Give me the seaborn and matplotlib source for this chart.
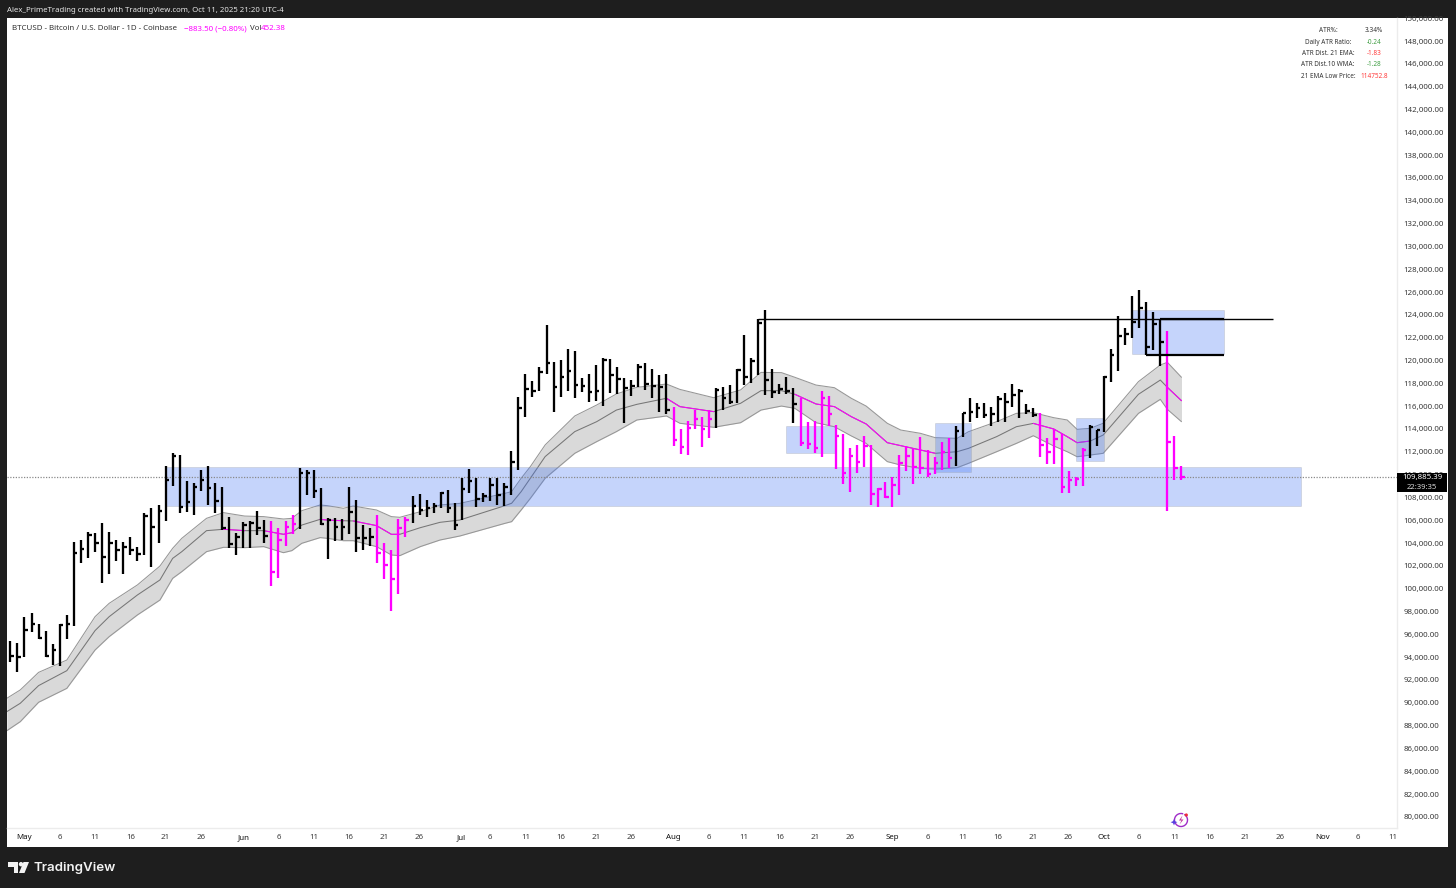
import numpy as np
import pandas as pd
import matplotlib
matplotlib.use("Agg")
import matplotlib.pyplot as plt
from matplotlib.patches import Polygon, Circle, Arc, Rectangle
from matplotlib.transforms import ScaledTranslation
import seaborn as sns

W, H = 1456, 888
BLACK_BAR = "#000000"
PINK = "#ff00ff"
FRAME = "#1e1e1e"
FONT = ["Noto Sans", "DejaVu Sans"]

# ---------- data (BTCUSD daily, day 0 = May 1 2025) ----------
first_day = -2
highs = [95550,95350,97620,97970,97040,96400,95290,97010,97830,104250,104400,105070,104980,105860,105070,104400,104250,104630,103760,106740,107180,107470,110890,112050,111850,109600,109420,110530,110890,109420,109070,106450,105040,106010,106070,106970,106150,106070,105480,106070,106590,110680,110530,110530,108930,106300,106300,106240,109070,107910,105690,105420,106590,104110,103520,106210,106450,108260,108430,107910,107670,108640,108780,107610,
109810,110600,109860,108490,109810,109810,109370,112230,116900,118950,118360,119530,123240,120030,120180,121110,120960,118570,118950,119740,120380,120230,119590,118570,118420,119830,119880,119360,118860,118950,116090,
114100,114860,115790,115150,115790,117750,117780,117980,119360,122370,120320,123740,124560,119360,118070,118720,117690,116820,114710,114860,117460,117050,114480,113660,112440,112730,113520,112730,108930,109510,109950,111850,112640,112350,
113460,112290,111650,112960,113310,114390,115560,116870,116440,116380,116090,117050,117310,118040,117600,116290,115940,115500,113370,114100,113660,110450,109890,112430,114480,114040,
118770,121110,124030,123010,125780,126310,125230,124350,123740,122720,113520,110890]
lows = [93740,92860,94120,96370,95730,94120,93450,93360,95750,96860,102360,102790,103350,100660,101420,102590,101390,103090,102590,103090,102060,104170,106070,109130,106740,106880,106590,108690,107470,106740,105280,103670,103090,103730,103670,104840,104170,100400,101100,103900,104930,105340,108340,108050,105710,102760,104340,104400,104930,103320,103520,103870,102360,100950,98210,99670,104630,105860,106590,106390,106800,107230,106740,105280,
106160,108550,107260,107760,107850,107470,107380,108350,110540,115210,116900,117460,118920,115650,116900,117460,116880,117400,116520,116610,116170,117310,117200,114680,117050,117780,117550,116820,115650,115440,112640,
111940,111850,114100,112580,113310,114250,115790,116320,116440,117980,118190,118860,117110,116870,117200,117200,114680,112670,112350,112000,111650,114390,110590,109280,108640,110300,110830,107470,107320,108050,107260,108350,110480,109310,
110180,109950,110180,110540,110680,110920,113460,114710,115120,115120,114390,114710,114710,116090,115060,115440,115210,111650,111060,111030,108550,108550,109130,109130,111560,112670,
113900,118280,119240,121490,122130,123010,120610,121050,119680,106970,109660,109660]
closes = [94240,94180,96510,97040,95840,94240,94760,96950,97040,103230,103580,104840,104110,102880,104110,103520,103760,103520,103170,106500,105570,106970,109660,111760,107260,107760,109070,109660,108930,107820,105420,104050,104690,105710,105920,105420,104780,101570,104400,105570,105800,110240,110300,108690,105770,106150,105510,105570,106880,104610,104610,104690,103290,102180,101010,105420,106150,107410,107030,107180,107380,108490,107180,105710,
108870,109600,107970,108260,109220,108350,109020,111270,116000,117610,117460,119150,119880,117780,118660,119240,117990,117900,117400,117460,120180,118860,118480,117690,117900,119530,118070,117900,117840,115790,113170,
112580,114220,115010,114100,115010,117550,116820,116470,119300,118720,120120,123390,118420,117400,117610,117490,116290,112870,112810,112490,116870,115410,113520,110240,111760,111270,112640,108400,108840,108200,109220,111180,111760,110770,
110680,110180,111120,112080,111620,113950,115560,115650,116000,115360,115440,116760,116470,117110,117490,115730,115330,112730,112080,113250,109020,109660,109720,112290,114270,114040,
118660,120610,122310,122450,123480,124700,121340,123330,121720,112960,110680,109885]
pink_bar_spans = [(35, 38), (50, 54), (92, 97), (110, 131), (144, 150), (162, 164)]

band_day = [-2.5,-0.6,2,6,10,12,16,19.2,21,22.3,25.8,28.2,31.2,33.9,36.7,37.9,39.3,41.9,42.9,45.2,46.6,49.9,52,53.2,56.1,58.9,61.7,68.1,69.05,70.4,71.7,73.8,78,81.1,83.9,86.8,91,92.9,97.7,101.5,104.4,107.3,109.2,112.2,114.8,117.2,119.3,122.3,124.2,127,129.1,132.2,133.8,137.8,140.6,143,145.9,147.8,149.2,151.1,152.9,157.9,161,162,164]
band_upper = [90530,91260,92800,93880,97680,98850,100460,102120,103670,104550,106300,106800,106500,106450,106240,106300,106970,107470,107410,107180,107380,107030,106450,106390,106880,107470,107610,108490,108640,109810,110830,112730,115270,116230,117200,117780,118070,117600,116870,117550,119090,119070,118660,117980,117750,116820,116140,114630,114040,113750,113370,113310,113890,114770,115500,115560,115120,114920,114100,114190,114630,118280,119740,119970,118660]
band_mid = [89360,90090,91640,92950,96460,97680,99580,100900,102790,103380,105220,105340,105220,105220,104900,105040,105710,106210,106150,106090,106070,105660,104900,104900,105480,105950,106150,107410,107620,108640,109810,111710,113900,114770,115790,116290,116820,116090,115650,116380,117490,117490,117170,116320,116090,115210,114570,112930,112670,112290,112000,112140,112430,113460,114330,114620,114130,113460,112930,113080,113600,117170,118420,117780,116610]
band_lower = [87690,88480,90180,91400,94760,95930,97830,99140,101040,101630,103380,103760,103730,103820,103290,103470,104110,104610,104550,104340,104340,103820,103090,103030,103820,104400,104750,105860,106010,107030,108050,109810,112000,113020,113900,114920,115270,114630,114280,114680,115790,116140,115940,114680,114330,113520,112870,111270,110970,110680,110620,110740,111120,112140,112870,113540,112640,112140,111700,111850,112000,115500,116730,115850,114770]
pink_mid_spans = [(28.2, 31.2), (33.9, 37.9), (41.9, 45.2), (46.6, 53.2), (91, 97.7), (109.2, 129.1), (143, 151.1), (162, 164)]

zones_start = [20.05, 108, 129.1, 149, 157]
zones_end = [181, 114.9, 134.1, 153, 170]
zones_top = [110800, 114390, 114630, 115070, 124560]
zones_bottom = [107340, 112050, 110390, 111350, 120700]

level_thin = (104, 177, 123770)
level_thick = (161, 170, 123770)
level_low = (159, 170, 120610)
last_price = 109885.39

x_tick_days = [0,5,10,15,20,25,31,36,41,46,51,56,61.85,66,71,76,81,86,92,97,102,107,112,117,123,128,133,138,143,148,153,158,163,168,173,178,184,189,194]
x_tick_labels = ["May","6","11","16","21","26","Jun","6","11","16","21","26","Jul","6","11","16","21","26","Aug","6","11","16","21","26","Sep","6","11","16","21","26","Oct","6","11","16","21","26","Nov","6","11"]
price_ticks = list(range(80000, 150001, 2000))

table_labels = ["ATR%:", "Daily ATR Ratio:", "ATR Dist. 21 EMA:", "ATR Dist.10 WMA:", "21 EMA Low Price:"]
table_values = ["3.34%", "-0.24", "-1.83", "-1.28", "114752.8"]
table_colors = ["#333333", "#43a047", "#ff3b3b", "#43a047", "#ff3b3b"]

# ---------- frame ----------
sns.set_theme(style="white")
plt.rcParams["font.family"] = FONT
fig = plt.figure(figsize=(W / 100, H / 100), dpi=100, facecolor=FRAME)

def rect(l, t, r, b):
    return [l / W, 1 - b / H, (r - l) / W, (b - t) / H]

panel = fig.add_axes(rect(7, 18, 1448, 847), facecolor="white")
panel.set_xticks([]); panel.set_yticks([])
for s in panel.spines.values():
    s.set_visible(False)

ax = fig.add_axes(rect(7, 18, 1397, 828), facecolor="white")
ax.set_xlim(-2.48, 194.55)
ax.set_ylim(79160, 150150)

days = np.arange(first_day, first_day + len(highs))
bars = pd.DataFrame({"day": days, "high": highs, "low": lows, "close": closes})
bars["pink"] = False
for a, b in pink_bar_spans:
    bars.loc[bars["day"].between(a, b), "pink"] = True
bars["color"] = np.where(bars["pink"], PINK, BLACK_BAR)

band = pd.DataFrame({"day": band_day, "upper": band_upper, "mid": band_mid, "lower": band_lower})

# ---------- band ----------
ax.fill_between(band["day"], band["lower"], band["upper"], color="#d9d9d9", lw=0, zorder=1)
sns.lineplot(data=band, x="day", y="upper", ax=ax, color="#969696", lw=0.75, zorder=2, legend=False)
sns.lineplot(data=band, x="day", y="lower", ax=ax, color="#969696", lw=0.75, zorder=2, legend=False)
sns.lineplot(data=band, x="day", y="mid", ax=ax, color="#767676", lw=0.75, zorder=2, legend=False)
for a, b in pink_mid_spans:
    seg = band[band["day"].between(a, b)]
    sns.lineplot(data=seg, x="day", y="mid", ax=ax, color=PINK, lw=0.75, zorder=2.1, legend=False)

# ---------- zones ----------
for s, e, t, b in zip(zones_start, zones_end, zones_top, zones_bottom):
    ax.add_patch(Rectangle((s, b), e - s, t - b, facecolor="#3f73f5", alpha=0.30,
                           edgecolor="#9a9a9a", lw=0.6, zorder=3))

# ---------- HLC bars ----------
ax.vlines(bars["day"], bars["low"], bars["high"], colors=bars["color"], lw=1.65, zorder=4, capstyle="butt")
ax.hlines(bars["close"], bars["day"], bars["day"] + 0.5, colors=bars["color"], lw=1.65, zorder=4, capstyle="butt")

# ---------- levels ----------
ax.hlines(level_thin[2], level_thin[0], level_thin[1], color="black", lw=1.0, zorder=5)
ax.hlines(level_thick[2], level_thick[0], level_thick[1], color="black", lw=1.6, zorder=5)
ax.hlines(level_low[2], level_low[0], level_low[1], color="black", lw=1.6, zorder=5)
ax.axhline(last_price, color="#8a8a8a", lw=0.9, ls=(0, (1, 1.2)), zorder=3.5)

# ---------- axes ----------
ax.yaxis.tick_right()
ax.set_yticks(price_ticks)
ax.set_yticklabels([f"{p:,.2f}" for p in price_ticks], fontsize=5.7, color="#3a3a3a")
ax.tick_params(axis="y", length=0, pad=4.5)
up = ScaledTranslation(0, 1.5 / 100, fig.dpi_scale_trans)
for lab in ax.get_yticklabels():
    lab.set_transform(lab.get_transform() + up)
ax.set_xticks(x_tick_days)
ax.set_xticklabels(x_tick_labels, fontsize=5.7, color="#3a3a3a")
for lab in ax.get_xticklabels():
    if lab.get_text() in ("May", "Jun", "Jul", "Aug", "Sep", "Oct", "Nov"):
        lab.set_color("#111111")
ax.tick_params(axis="x", length=0, pad=4.5)
ax.set_xlabel(""); ax.set_ylabel("")
for name, s in ax.spines.items():
    s.set_visible(name in ("right", "bottom"))
    s.set_color("#ececec")
    s.set_linewidth(1.0)

# ---------- overlay in pixels ----------
ov = fig.add_axes([0, 0, 1, 1], facecolor="none")
ov.set_xlim(0, W); ov.set_ylim(H, 0); ov.axis("off")

ov.text(7, 10, "Alex_PrimeTrading created with TradingView.com, Oct 11, 2025 21:20 UTC-4",
        color="#e6e6e6", fontsize=5.6, va="center")
ov.text(12, 28.5, "BTCUSD - Bitcoin / U.S. Dollar - 1D - Coinbase", color="#333333", fontsize=5.7, va="center")
ov.text(184, 28.5, "\u2212883.50 (\u22120.80%)", color=PINK, fontsize=5.7, va="center")
ov.text(250, 28.5, "Vol", color="#333333", fontsize=5.7, va="center")
ov.text(261, 28.5, "452.38", color=PINK, fontsize=5.7, va="center")

for y, l, v, c in zip([30.5, 42.5, 53.5, 65, 76.5], table_labels, table_values, table_colors):
    ov.text(1328, y, l, color="#333333", fontsize=4.6, ha="center", va="center")
    ov.text(1374, y, v, color=c, fontsize=4.6, ha="center", va="center")

ov.add_patch(Rectangle((1397, 472.7), 50, 19.6, facecolor="black", edgecolor="none"))
ov.text(1422, 477.5, f"{last_price:,.2f}", color="white", fontsize=5.7, ha="center", va="center", fontweight="semibold")
ov.text(1422, 487.8, "22:39:35", color="#d8d8d8", fontsize=5.5, ha="center", va="center")

# TradingView wordmark
ov.text(33, 867.5, "TradingView", color="#f2f2f2", fontsize=9.6, fontweight="semibold", va="center",
        family=["Inter", "DejaVu Sans"])
ov.add_patch(Polygon([(8, 862), (18, 862), (18, 873), (13.5, 873), (13.5, 866.5), (8, 866.5)], fc="#f2f2f2", ec="none"))
ov.add_patch(Circle((21, 864.2), 2.2, fc="#f2f2f2", ec="none"))
ov.add_patch(Polygon([(23.5, 862), (29, 862), (24.5, 873), (19, 873)], fc="#f2f2f2", ec="none"))

# small assistant icon above the time axis
ov.add_patch(Arc((1181, 820), 13, 13, theta1=-60, theta2=290, ec="#a02cc8", lw=1.0))
ov.add_patch(Polygon([(1182.5, 815.5), (1179, 820.5), (1181.5, 820.5), (1179.5, 824.5), (1183.5, 819.5), (1181, 819.5)],
                     fc="#c0309c", ec="none"))
ov.add_patch(Polygon([(1174, 819), (1175, 821.2), (1177.4, 822.2), (1175, 823.2), (1174, 825.4),
                      (1173, 823.2), (1170.6, 822.2), (1173, 821.2)], fc="#5a3fe0", ec="none"))
ov.add_patch(Circle((1186.3, 815), 1.6, fc="#ee2b3b", ec="none"))

fig.savefig("out.png", dpi=100, facecolor=FRAME)
